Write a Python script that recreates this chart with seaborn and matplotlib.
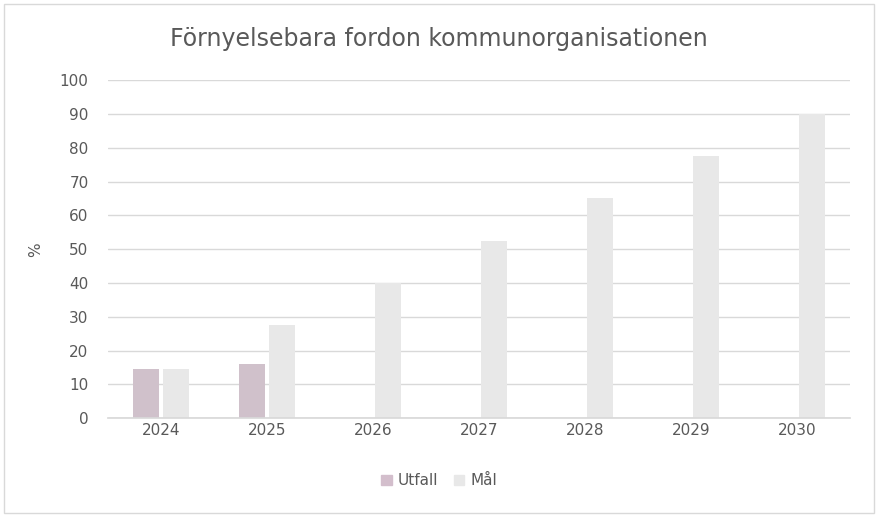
import matplotlib
matplotlib.use("Agg")
import matplotlib.pyplot as plt
import seaborn as sns
import pandas as pd
from matplotlib.patches import Rectangle

years = ["2024", "2025", "2026", "2027", "2028", "2029", "2030"]
utfall = [14.7, 16.0, None, None, None, None, None]
mal = [14.7, 27.5, 40.0, 52.5, 65.0, 77.5, 90.0]

rows = []
for y, u, m in zip(years, utfall, mal):
    rows.append({"År": y, "Serie": "Utfall", "Värde": u})
    rows.append({"År": y, "Serie": "Mål", "Värde": m})
df = pd.DataFrame(rows)

sns.set_theme(style="white")
plt.rcParams['font.family'] = ['DejaVu Sans']
fig = plt.figure(figsize=(8.78, 5.17), dpi=100)
ax = fig.add_axes([0.123, 0.191, 0.845, 0.654])
sns.barplot(data=df, x="År", y="Värde", hue="Serie", palette={"Utfall": "#D3BECC", "Mål": "#E8E8E8"},
            width=0.56, ax=ax, legend=False, linewidth=0)
for p in ax.patches:
    w = p.get_width()
    p.set_x(p.get_x() + w * 0.06)
    p.set_width(w * 0.88)

ax.set_ylim(0, 100)
ax.set_yticks(range(0, 101, 10))
ax.yaxis.grid(True, color="#D9D9D9", linewidth=1)
ax.set_axisbelow(True)
for s in ["top", "right", "left"]:
    ax.spines[s].set_visible(False)
ax.spines["bottom"].set_color("#D9D9D9")
ax.tick_params(axis="both", colors="#595959", labelsize=11, length=0)
ax.tick_params(axis="y", pad=14)
ax.set_xlabel("")
ax.set_ylabel("%", color="#595959", fontsize=11, labelpad=12)
fig.text(0.5, 0.925, "Förnyelsebara fordon kommunorganisationen", ha="center", va="center",
         fontsize=17, color="#595959")
fig.legend(handles=[Rectangle((0, 0), 1, 1, color="#D3BECC"), Rectangle((0, 0), 1, 1, color="#E8E8E8")],
           labels=["Utfall", "Mål"], loc="center", bbox_to_anchor=(0.5, 0.07), ncol=2, frameon=False,
           fontsize=11, labelcolor="#595959", handlelength=0.7, handleheight=0.7, columnspacing=1.0, handletextpad=0.4)
fig.add_artist(Rectangle((0.005, 0.008), 0.99, 0.984, transform=fig.transFigure, fill=False,
                         edgecolor="#D9D9D9", linewidth=1))
fig.savefig("out.png", dpi=100)
